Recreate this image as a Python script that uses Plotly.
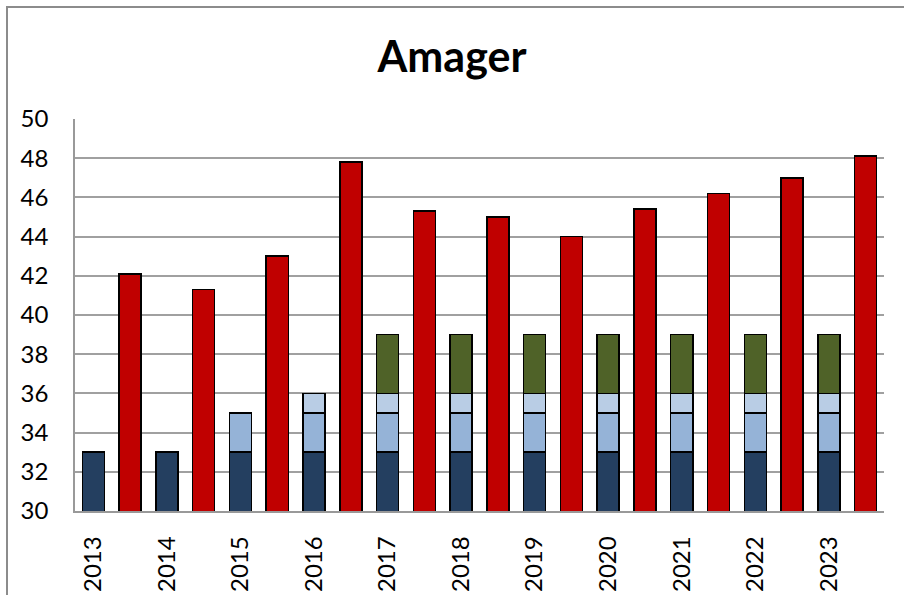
import plotly.graph_objects as go

years = ["2013", "2014", "2015", "2016", "2017", "2018", "2019", "2020", "2021", "2022", "2023"]
seg_navy = [33, 33, 33, 33, 33, 33, 33, 33, 33, 33, 33]
seg_lightblue = [0, 0, 2, 2, 2, 2, 2, 2, 2, 2, 2]
seg_paleblue = [0, 0, 0, 1, 1, 1, 1, 1, 1, 1, 1]
seg_green = [0, 0, 0, 0, 3, 3, 3, 3, 3, 3, 3]
red_values = [42.1, 41.3, 43.0, 47.8, 45.3, 45.0, 44.0, 45.4, 46.2, 47.0, 48.1]
y_ticks = [30, 32, 34, 36, 38, 40, 42, 44, 46, 48, 50]

stack_x = [2 * i for i in range(len(years))]
red_x = [2 * i + 1 for i in range(len(years))]

line = dict(color="black", width=1.5)
fig = go.Figure()
for vals, col in [(seg_navy, "#243F60"), (seg_lightblue, "#95B3D7"),
                  (seg_paleblue, "#B9CDE5"), (seg_green, "#4F6228")]:
    fig.add_trace(go.Bar(x=stack_x, y=vals, marker=dict(color=col, line=line),
                         showlegend=False, hoverinfo="y"))
fig.add_trace(go.Bar(x=red_x, y=red_values, marker=dict(color="#C00000", line=line),
                     showlegend=False))

fig.update_layout(
    barmode="stack",
    bargap=0.4,
    width=904, height=595,
    margin=dict(l=75, r=20, t=119, b=84),
    paper_bgcolor="white", plot_bgcolor="white",
    font=dict(family="Lato", color="black"),
    title=dict(text="<b>Amager</b>", x=0.5, xanchor="center", y=0.905, yanchor="middle",
               xref="container", font=dict(size=43, family="Lato", color="black")),
    xaxis=dict(range=[-0.5, 21.5], tickvals=stack_x, ticktext=years, tickangle=-90,
               tickfont=dict(size=24), showgrid=False, showline=True,
               linecolor="#999999", linewidth=1.5, ticks="", ticklabelstandoff=14,
               automargin=False),
    yaxis=dict(range=[30, 50], tickvals=y_ticks, tickfont=dict(size=24),
               showgrid=True, gridcolor="#A0A0A0", gridwidth=1.5,
               showline=True, linecolor="#999999", linewidth=1.5,
               ticks="", ticklabelstandoff=20, zeroline=False, automargin=False),
    shapes=[dict(type="rect", xref="paper", yref="paper",
                 x0=(7 - 75) / 809, x1=1.2, y0=-0.5, y1=(511 - 7) / 392,
                 line=dict(color="#8C8C8C", width=2), fillcolor="rgba(0,0,0,0)",
                 layer="below")],
)

fig.write_html("out.html", config={"displayModeBar": False},
               post_script="document.body.style.margin='0';")
